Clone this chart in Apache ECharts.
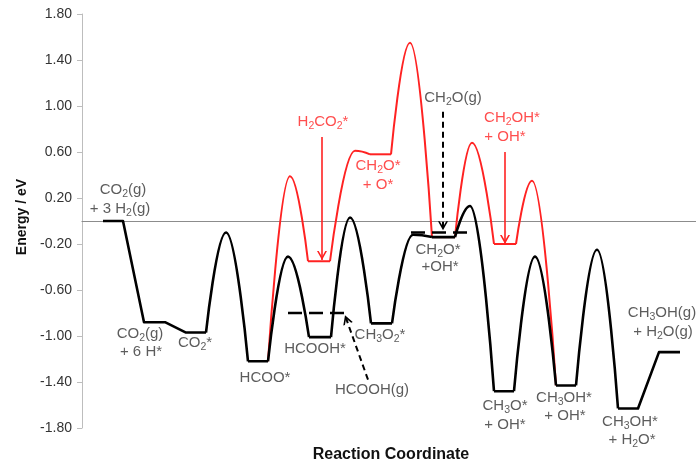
<!DOCTYPE html>
<html>
<head>
<meta charset="utf-8">
<script src="https://cdn.jsdelivr.net/npm/echarts@6/dist/echarts.min.js"></script>
<style>
  html, body { margin: 0; padding: 0; background: #fff; }
  #chart { width: 696px; height: 466px; }
</style>
</head>
<body>
<div id="chart"></div>
<script>
// ---- energy axis ----
const energyTicks = [-1.8, -1.4, -1.0, -0.6, -0.2, 0.2, 0.6, 1.0, 1.4, 1.8];

// ---- formate route (black): plateaus [start, end, energy / eV] ----
const mainLevels = [
  [21, 41, 0.00],     // CO2(g) + 3 H2(g)
  [62, 83, -0.88],    // CO2(g) + 6 H*
  [104, 124, -0.97],  // CO2*
  [166, 186, -1.22],  // HCOO*
  [227, 249, -1.01],  // HCOOH*
  [289, 310, -0.89],  // CH3O2*
  [350, 373, -0.14],  // CH2O* + OH*
  [412, 432, -1.48],  // CH3O* + OH*
  [474, 494, -1.43],  // CH3OH* + OH*
  [536, 556, -1.63],  // CH3OH* + H2O*
  [577, 598, -1.14]   // CH3OH(g) + H2O(g)
];
// transition-state tops between consecutive plateaus (null = plain step)
const mainBarriers = [null, null, [144, -0.10], [206, -0.31], [268, 0.03],
                      [331, -0.12], [388, 0.13], [453, -0.31], [515, -0.25], null];

// ---- alternative route (red) ----
const altLevels = [
  [186, 186, -1.22],  // leaves HCOO*
  [226, 248, -0.35],  // H2CO2*
  [288, 309, 0.58],   // CH2O* + O*
  [350, 373, -0.14],  // CH2O* + OH*
  [412, 434, -0.20],  // CH2OH* + OH*
  [474, 474, -1.43]   // joins CH3OH* + OH*
];
const altBarriers = [[208, 0.39], [273, 0.61], [328, 1.55], [390, 0.68], [450, 0.35]];

// gas-phase reference levels (dashed): [start, end, energy]
const gasLevels = [[206, 265, -0.80], [329, 388, -0.10]];

// pointer arrows: [fromX, fromE, toX, toE]
const mainPointers = [[361, 0.95, 361, -0.08], [286, -1.38, 263, -0.82]];
const altPointers = [[240, 0.73, 240, -0.34], [423, 0.60, 423, -0.20]];

// state labels: [x, energy, text]  ({s|..} = subscript)
const mainNotes = [
  [41, 0.27, 'CO{s|2}(g)'],
  [38, 0.104, '+ 3 H{s|2}(g)'],
  [58, -0.983, 'CO{s|2}(g)'],
  [59, -1.139, '+ 6 H*'],
  [113, -1.061, 'CO{s|2}*'],
  [183, -1.365, 'HCOO*'],
  [233, -1.113, 'HCOOH*'],
  [298, -0.991, 'CH{s|3}O{s|2}*'],
  [290, -1.47, 'HCOOH(g)'],
  [356, -0.252, 'CH{s|2}O*'],
  [358, -0.40, '+OH*'],
  [371, 1.07, 'CH{s|2}O(g)'],
  [423, -1.609, 'CH{s|3}O*'],
  [423, -1.774, '+ OH*'],
  [482, -1.539, 'CH{s|3}OH*'],
  [483, -1.696, '+ OH*'],
  [548, -1.748, 'CH{s|3}OH*'],
  [550, -1.904, '+ H{s|2}O*'],
  [580, -0.80, 'CH{s|3}OH(g)'],
  [581, -0.965, '+ H{s|2}O(g)']
];
const altNotes = [
  [241, 0.861, 'H{s|2}CO{s|2}*'],
  [296, 0.478, 'CH{s|2}O*'],
  [296, 0.313, '+ O*'],
  [430, 0.896, 'CH{s|2}OH*'],
  [423, 0.73, '+ OH*']
];

// ---------------------------------------------------------------
const FONT = '"Liberation Sans", Arial, Helvetica, sans-serif';
const BLACK = '#000000';
const RED = '#ff2222';
const ARROW = 'path://M5,0 L5,0.01 M5,9 L10,18 L8.3,18 L5,12.4 L1.7,18 L0,18 Z';

// split a profile into straight runs and smooth barrier pieces
function buildProfile(levels, barriers) {
  const straight = [];
  const curved = [];
  let run = [];
  levels.forEach(function (lv, i) {
    run.push([lv[0], lv[2]], [lv[1], lv[2]]);
    if (i === levels.length - 1) return;
    const next = levels[i + 1];
    const top = barriers[i];
    if (top) {
      straight.push(run);
      run = [];
      curved.push([[lv[1], lv[2]], top, [next[0], next[2]]]);
    }
  });
  straight.push(run);
  return { straight: straight.filter(function (r) { return r[0][0] !== r[r.length - 1][0]; }), curved: curved };
}

function lineSeries(data, color, width, smooth, z) {
  return {
    type: 'line', data: data, z: z,
    symbol: 'none', showSymbol: false, silent: true, animation: false,
    smooth: smooth, smoothMonotone: 'x',
    lineStyle: { color: color, width: width, cap: 'butt', join: 'round' }
  };
}

function noteSeries(notes, color) {
  return {
    type: 'scatter', data: notes, symbolSize: 0, clip: false, silent: true, animation: false, z: 10,
    label: {
      show: true, position: 'inside',
      formatter: function (p) { return p.data[2]; },
      fontFamily: FONT, fontSize: 15, color: color,
      rich: { s: { fontFamily: FONT, fontSize: 10.5, color: color, padding: [8, 0, 0, 0] } }
    }
  };
}

function pointerLines(list, color, dashed) {
  return list.map(function (p) {
    return [
      { coord: [p[0], p[1]], lineStyle: { color: color, width: dashed ? 2 : 1.6, type: dashed ? [6, 4] : 'solid' } },
      { coord: [p[2], p[3]] }
    ];
  });
}

const mainProfile = buildProfile(mainLevels, mainBarriers);
const altProfile = buildProfile(altLevels, altBarriers);

const series = [];
altProfile.straight.forEach(function (d) { series.push(lineSeries(d, RED, 2, false, 2)); });
altProfile.curved.forEach(function (d) { series.push(lineSeries(d, RED, 2, 0.45, 2)); });
mainProfile.straight.forEach(function (d) { series.push(lineSeries(d, BLACK, 2.6, false, 3)); });
mainProfile.curved.forEach(function (d) { series.push(lineSeries(d, BLACK, 2.6, 0.45, 3)); });

gasLevels.forEach(function (g) {
  const s = lineSeries([[g[0], g[2]], [g[1], g[2]]], BLACK, 2.4, false, 4);
  s.lineStyle.type = [14, 7];
  series.push(s);
});

// arrows ride on an empty carrier series
series.push({
  type: 'line', data: [], silent: true, animation: false, z: 5,
  markLine: {
    silent: true, animation: false,
    symbol: ['none', ARROW], symbolSize: [10, 18],
    label: { show: false },
    data: pointerLines(mainPointers, BLACK, true).concat(pointerLines(altPointers, RED, false))
  }
});

series.push(noteSeries(mainNotes, '#333333'));
series.push(noteSeries(altNotes, RED));

const chart = echarts.init(document.getElementById('chart'), null, { renderer: 'canvas' });
chart.setOption({
  backgroundColor: '#ffffff',
  animation: false,
  grid: { left: 82, right: 0, top: 14, bottom: 38, containLabel: false, outerBoundsMode: 'none' },
  xAxis: {
    type: 'value', min: 0, max: 614,
    axisLine: { show: true, onZero: true, lineStyle: { color: '#8c8c8c', width: 1.2 } },
    axisTick: { show: false }, axisLabel: { show: false }, splitLine: { show: false }
  },
  yAxis: {
    type: 'value', min: -1.8, max: 1.8,
    axisLine: { show: true, onZero: false, lineStyle: { color: '#bdbdbd', width: 1 } },
    axisTick: { show: true, length: 5, customValues: energyTicks, lineStyle: { color: '#bdbdbd' } },
    axisLabel: {
      show: true, customValues: energyTicks, margin: 10,
      fontFamily: FONT, fontSize: 14, color: '#333333',
      formatter: function (v) { return v.toFixed(2); }
    },
    splitLine: { show: false }
  },
  graphic: [
    { type: 'text', x: 22, y: 217, rotation: Math.PI / 2, silent: true,
      style: { text: 'Energy / eV', fontFamily: FONT, fontSize: 14, fontWeight: 'bold', fill: '#111', align: 'center', verticalAlign: 'middle' } },
    { type: 'text', x: 391, y: 455, silent: true,
      style: { text: 'Reaction Coordinate', fontFamily: FONT, fontSize: 16, fontWeight: 'bold', fill: '#111', align: 'center', verticalAlign: 'middle' } }
  ],
  series: series
});
</script>
</body>
</html>
